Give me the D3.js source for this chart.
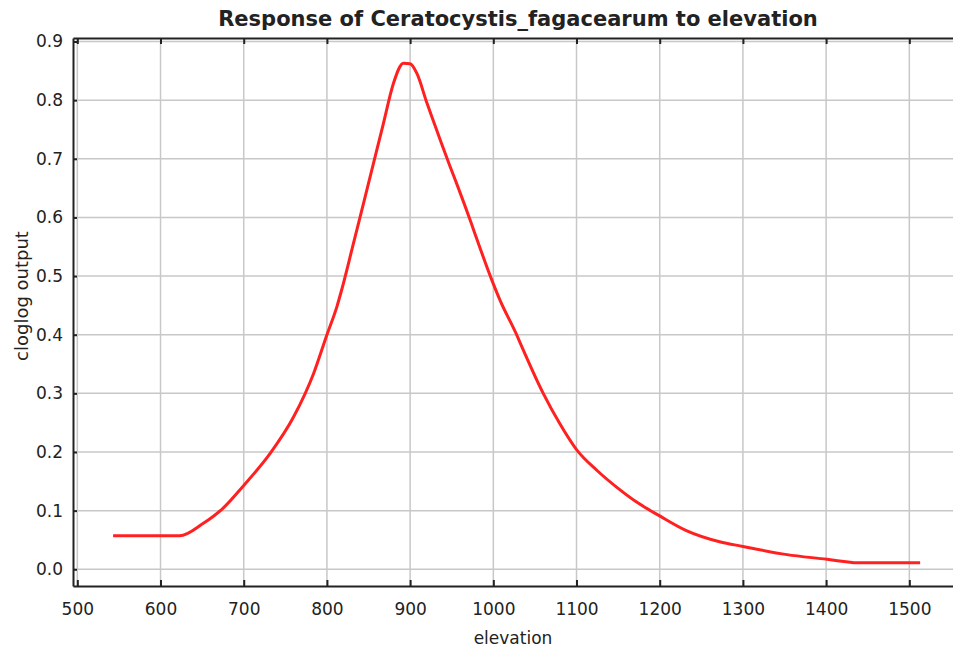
<!DOCTYPE html>
<html>
<head>
<meta charset="utf-8">
<script src="https://cdn.jsdelivr.net/npm/d3@7"></script>
<style>
  body { margin: 0; background: #fff; }
  text { font-family: "DejaVu Sans", sans-serif; fill: #222; }
</style>
</head>
<body>
<svg id="chart" width="953" height="650"></svg>
<script>
// response curve
const elevation = [543, 623, 651, 675, 700, 732, 760, 784, 800, 812, 818, 830, 848, 868, 880, 892, 900, 908, 920, 926, 948, 958, 972, 976, 998, 1008, 1028, 1032, 1060, 1080, 1100, 1125, 1150, 1175, 1200, 1232, 1272, 1300, 1353, 1401, 1429, 1435, 1513];
const output = [0.057, 0.057, 0.078, 0.104, 0.143, 0.198, 0.260, 0.334, 0.400, 0.448, 0.478, 0.545, 0.647, 0.761, 0.829, 0.863, 0.862, 0.846, 0.796, 0.772, 0.687, 0.650, 0.596, 0.580, 0.494, 0.459, 0.400, 0.387, 0.300, 0.248, 0.204, 0.168, 0.138, 0.112, 0.091, 0.066, 0.047, 0.039, 0.025, 0.017, 0.012, 0.011, 0.011];

const xTicks = [500, 600, 700, 800, 900, 1000, 1100, 1200, 1300, 1400, 1500];
const yTicks = [0, 0.1, 0.2, 0.3, 0.4, 0.5, 0.6, 0.7, 0.8, 0.9];

const title = "Response of Ceratocystis_fagacearum to elevation";
const xLabel = "elevation";
const yLabel = "cloglog output";

const svg = d3.select("#chart");
const plotLeft = 73, plotRight = 953, plotTop = 38, plotBottom = 586;

const x = d3.scaleLinear().domain([494.8, 1552.5]).range([plotLeft, plotRight]);
const y = d3.scaleLinear().domain([-0.0285, 0.906]).range([plotBottom, plotTop]);

// grid
svg.append("g").selectAll("line").data(xTicks).enter().append("line")
  .attr("x1", d => x(d)).attr("x2", d => x(d))
  .attr("y1", plotTop).attr("y2", plotBottom)
  .attr("stroke", "#c8c8c8").attr("stroke-width", 1.5);
svg.append("g").selectAll("line").data(yTicks).enter().append("line")
  .attr("x1", plotLeft).attr("x2", plotRight)
  .attr("y1", d => y(d)).attr("y2", d => y(d))
  .attr("stroke", "#c8c8c8").attr("stroke-width", 1.5);

// axes (ticks pointing inward)
const fmtY = d3.format(".1f");
const gx = svg.append("g").attr("transform", `translate(0,${plotBottom})`)
  .call(d3.axisBottom(x).tickValues(xTicks).tickSizeInner(-6).tickSizeOuter(0).tickPadding(17).tickFormat(d3.format("d")));
const gxTop = svg.append("g").attr("transform", `translate(0,${plotTop})`)
  .call(d3.axisTop(x).tickValues(xTicks).tickSizeInner(-6).tickSizeOuter(0).tickFormat(""));
const gy = svg.append("g").attr("transform", `translate(${plotLeft},0)`)
  .call(d3.axisLeft(y).tickValues(yTicks).tickSizeInner(-4).tickSizeOuter(0).tickPadding(10).tickFormat(fmtY));

[gx, gxTop, gy].forEach(g => {
  g.select(".domain").attr("stroke", "#222").attr("stroke-width", 2);
  g.selectAll(".tick line").attr("stroke", "#222").attr("stroke-width", 2);
  g.selectAll(".tick text").style("font-size", "17px").attr("fill", "#222");
});

// curve
const pts = elevation.map((e, i) => [e, output[i]]);
svg.append("path")
  .datum(pts)
  .attr("fill", "none")
  .attr("stroke", "#ff2020")
  .attr("stroke-width", 3)
  .attr("stroke-linejoin", "round")
  .attr("d", d3.line().curve(d3.curveMonotoneX).x(d => x(d[0])).y(d => y(d[1])));

// labels
svg.append("text")
  .attr("x", 518).attr("y", 26)
  .attr("text-anchor", "middle")
  .style("font-size", "21px").style("font-weight", "bold")
  .text(title);

svg.append("text")
  .attr("x", 513).attr("y", 644)
  .attr("text-anchor", "middle")
  .style("font-size", "17px")
  .text(xLabel);

svg.append("text")
  .attr("transform", "translate(28,296) rotate(-90)")
  .attr("text-anchor", "middle")
  .style("font-size", "18px")
  .text(yLabel);
</script>
</body>
</html>
